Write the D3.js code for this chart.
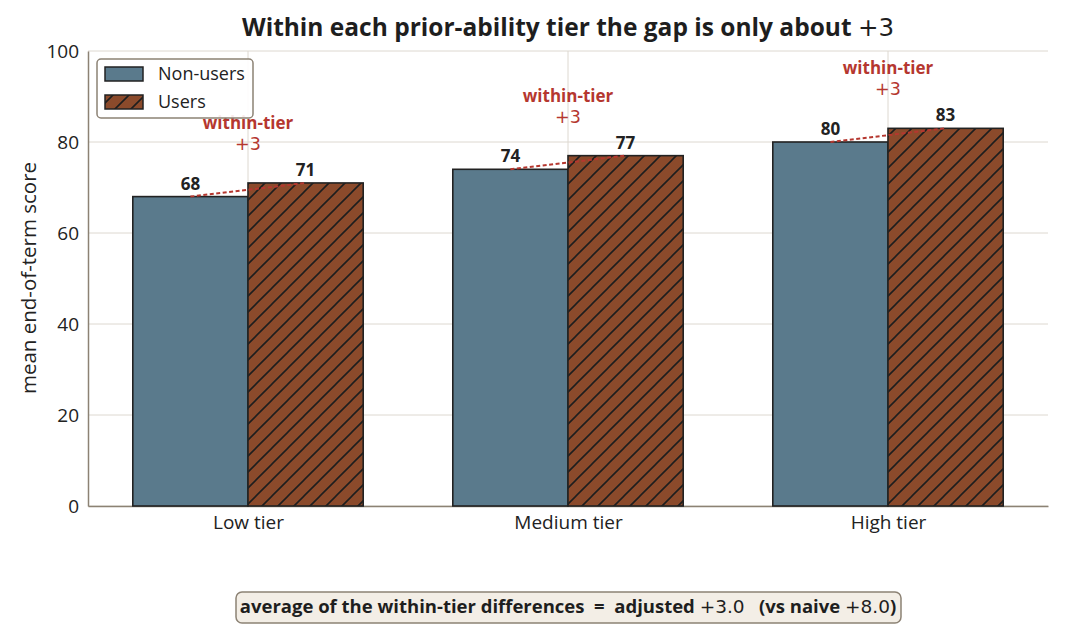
<!DOCTYPE html>
<html>
<head>
<meta charset="utf-8">
<script src="https://cdn.jsdelivr.net/npm/d3@7"></script>
<style>
  body { margin: 0; background: #fff; }
  text { font-family: "Open Sans", "Noto Sans", sans-serif; white-space: pre; }
</style>
</head>
<body>
<script>
var tiers = ["Low tier", "Medium tier", "High tier"];
var nonUsers = [68, 74, 80];
var users = [71, 77, 83];
var yTicks = [0, 20, 40, 60, 80, 100];
var seriesNames = ["Non-users", "Users"];

var width = 1066, height = 636;
var plotLeft = 88, plotRight = 1048, plotTop = 51, plotBottom = 506;
var red = "#b5372f", spine = "#8c8274";

var svg = d3.select("body").append("svg")
	.attr("width", width)
	.attr("height", height);

var defs = svg.append("defs");
var pat = defs.append("pattern")
	.attr("id", "hatch")
	.attr("patternUnits", "userSpaceOnUse")
	.attr("width", 16).attr("height", 16);
pat.append("rect").attr("width", 16).attr("height", 16).attr("fill", "#8b4a2b");
pat.append("path")
	.attr("d", "M-4,4 L4,-4 M0,16 L16,0 M12,20 L20,12")
	.attr("stroke", "#1e1e1e").attr("stroke-width", 1.6);

var x = d3.scaleLinear().domain([-0.5, 2.5]).range([plotLeft, plotRight]);
var y = d3.scaleLinear().domain([0, 100]).range([plotBottom, plotTop]);
var bw = x(0.36) - x(0);

// grid
svg.append("g").selectAll("line").data(yTicks).enter().append("line")
	.attr("x1", plotLeft).attr("x2", plotRight)
	.attr("y1", function(d) { return y(d); }).attr("y2", function(d) { return y(d); })
	.attr("stroke", "#ddd8d0").attr("stroke-width", 1);
svg.append("g").selectAll("line").data(tiers).enter().append("line")
	.attr("x1", function(d, i) { return x(i); }).attr("x2", function(d, i) { return x(i); })
	.attr("y1", plotTop).attr("y2", plotBottom)
	.attr("stroke", "#ddd8d0").attr("stroke-width", 1);

// axes
var yAxis = svg.append("g").attr("transform", "translate(" + plotLeft + ",0)")
	.call(d3.axisLeft(y).tickValues(yTicks).tickSize(0).tickPadding(9));
yAxis.select(".domain").attr("stroke", spine).attr("stroke-width", 1.5);
yAxis.selectAll("text").attr("font-size", 19).attr("fill", "#222")
	.style("font-family", "'Open Sans', sans-serif");

var xAxis = svg.append("g").attr("transform", "translate(0," + plotBottom + ")")
	.call(d3.axisBottom(x).tickValues([0, 1, 2]).tickFormat(function(d) { return tiers[d]; })
		.tickSize(0).tickPadding(10));
xAxis.select(".domain").attr("stroke", spine).attr("stroke-width", 1.5);
xAxis.selectAll("text").attr("font-size", 19).attr("fill", "#222")
	.style("font-family", "'Open Sans', sans-serif");

// bars
var bars = svg.append("g");
bars.selectAll(".nu").data(nonUsers).enter().append("rect")
	.attr("x", function(d, i) { return x(i) - bw; })
	.attr("y", function(d) { return y(d); })
	.attr("width", bw).attr("height", function(d) { return plotBottom - y(d); })
	.attr("fill", "#5a7a8c").attr("stroke", "#222").attr("stroke-width", 1.6);
bars.selectAll(".us").data(users).enter().append("rect")
	.attr("x", function(d, i) { return x(i); })
	.attr("y", function(d) { return y(d); })
	.attr("width", bw).attr("height", function(d) { return plotBottom - y(d); })
	.attr("fill", "url(#hatch)").attr("stroke", "#222").attr("stroke-width", 1.6);

// value labels
var lab = svg.append("g").attr("font-size", 17).attr("font-weight", "bold")
	.attr("fill", "#222").attr("text-anchor", "middle");
lab.selectAll(".a").data(nonUsers).enter().append("text")
	.attr("x", function(d, i) { return x(i) - bw / 2; })
	.attr("y", function(d) { return y(d) - 7; })
	.text(function(d) { return d; });
lab.selectAll(".b").data(users).enter().append("text")
	.attr("x", function(d, i) { return x(i) + bw / 2; })
	.attr("y", function(d) { return y(d) - 7; })
	.text(function(d) { return d; });

// dashed connectors
svg.append("g").selectAll("line").data(tiers).enter().append("line")
	.attr("x1", function(d, i) { return x(i) - bw / 2; })
	.attr("y1", function(d, i) { return y(nonUsers[i]); })
	.attr("x2", function(d, i) { return x(i) + bw / 2; })
	.attr("y2", function(d, i) { return y(users[i]); })
	.attr("stroke", red).attr("stroke-width", 2).attr("stroke-dasharray", "4,2.5");

// annotations
var ann = svg.append("g").attr("fill", red).attr("text-anchor", "middle");
ann.selectAll(".w").data(tiers).enter().append("text")
	.attr("x", function(d, i) { return x(i); })
	.attr("y", function(d, i) { return y(users[i]) - 54; })
	.attr("font-size", 17).attr("font-weight", "bold")
	.text("within-tier");
ann.selectAll(".p").data(tiers).enter().append("text")
	.attr("x", function(d, i) { return x(i); })
	.attr("y", function(d, i) { return y(users[i]) - 33; })
	.attr("font-size", 17.5)
	.style("font-family", "'DejaVu Sans', sans-serif")
	.text(function(d, i) { return "+" + (users[i] - nonUsers[i]); });

// title
svg.append("text").attr("x", 568).attr("y", 36).attr("text-anchor", "middle")
	.attr("font-size", 24.5).attr("font-weight", "bold").attr("fill", "#1e1e1e")
	.text("Within each prior-ability tier the gap is only about ")
	.append("tspan").attr("font-weight", "normal")
	.style("font-family", "'DejaVu Sans', sans-serif").text("+3");

// y label
svg.append("text").attr("transform", "translate(36,278) rotate(-90)")
	.attr("text-anchor", "middle").attr("font-size", 20.5).attr("fill", "#222")
	.text("mean end-of-term score");

// legend
var leg = svg.append("g");
leg.append("rect").attr("x", 97).attr("y", 59).attr("width", 156).attr("height", 59)
	.attr("rx", 4).attr("fill", "#fff").attr("fill-opacity", 0.9)
	.attr("stroke", spine).attr("stroke-width", 1.5);
var fills = ["#5a7a8c", "url(#hatch)"];
leg.selectAll(".sw").data(seriesNames).enter().append("rect")
	.attr("x", 105).attr("y", function(d, i) { return 67 + i * 28; })
	.attr("width", 38).attr("height", 14)
	.attr("fill", function(d, i) { return fills[i]; })
	.attr("stroke", "#222").attr("stroke-width", 1.5);
leg.selectAll(".lt").data(seriesNames).enter().append("text")
	.attr("x", 158).attr("y", function(d, i) { return 80 + i * 28; })
	.attr("font-size", 18).attr("fill", "#222")
	.text(function(d) { return d; });

// footer box
var diffs = users.map(function(d, i) { return d - nonUsers[i]; });
var adj = d3.mean(diffs);
svg.append("rect").attr("x", 236).attr("y", 592).attr("width", 665).attr("height", 31)
	.attr("rx", 6).attr("fill", "#f3eee6").attr("stroke", spine).attr("stroke-width", 1.5);
var ft = svg.append("text").attr("x", 568).attr("y", 613).attr("text-anchor", "middle")
	.attr("font-size", 18.5).attr("font-weight", "bold").attr("fill", "#1e1e1e");
ft.append("tspan").text("average of the within-tier differences  =  adjusted ");
ft.append("tspan").attr("font-weight", "normal").style("font-family", "'DejaVu Sans', sans-serif")
	.text("+" + adj.toFixed(1));
ft.append("tspan").text("   (vs naive ");
ft.append("tspan").attr("font-weight", "normal").style("font-family", "'DejaVu Sans', sans-serif")
	.text("+8.0");
ft.append("tspan").text(")");
</script>
</body>
</html>
